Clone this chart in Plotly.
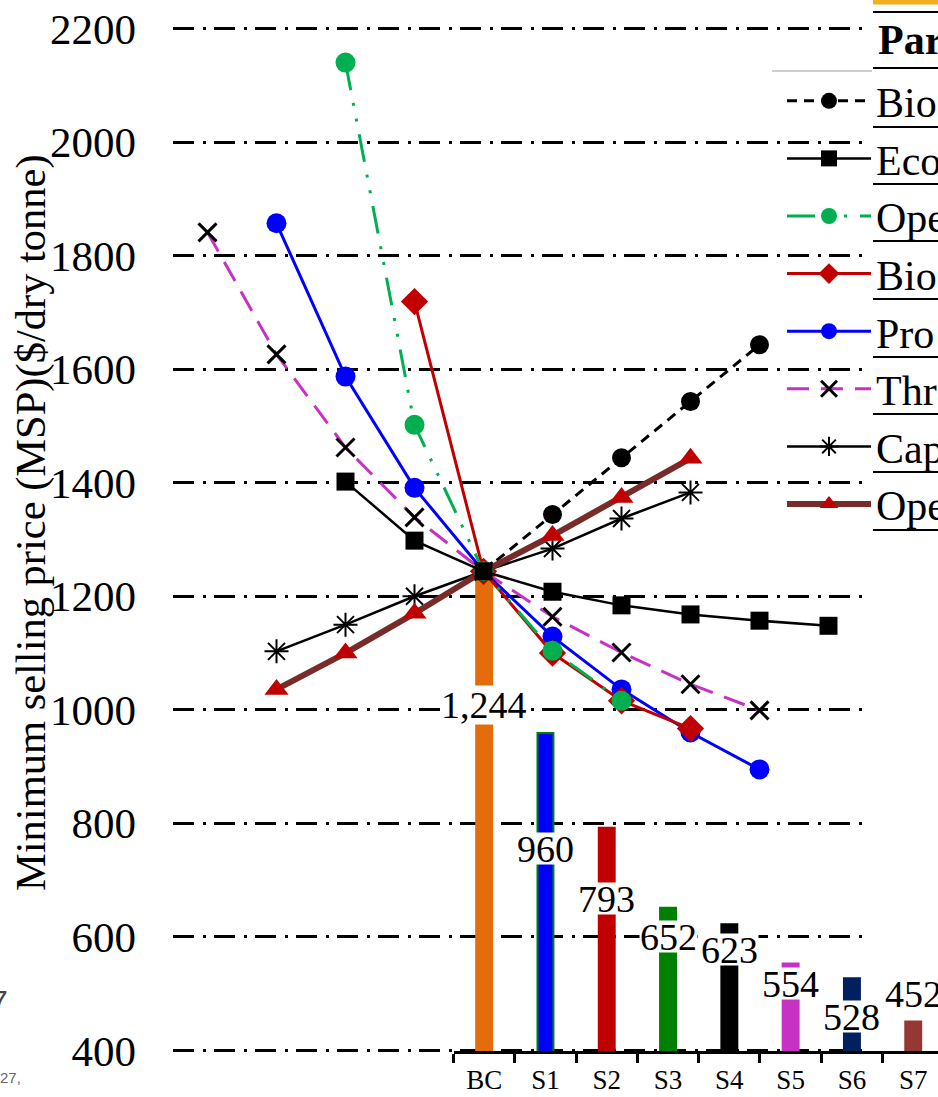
import plotly.graph_objects as go

# ---------------- data ----------------
steps = [-4, -3, -2, -1, 0, 1, 2, 3, 4, 5]

series_names = ["Bio", "Eco", "Ope", "Bio", "Pro", "Thr", "Cap", "Ope"]
bio_dashed = [None, None, None, None, 1244, 1344, 1444, 1543, 1643, None]
eco_scale = [None, None, 1402, 1298, 1244, 1208, 1184, 1168, 1157, 1148]
ope_green = [None, None, 2140, 1502, 1244, 1104, 1016, None, None, None]
bio_red = [None, None, None, 1719, 1244, 1100, 1016, 967, None, None]
pro_blue = [None, 1857, 1587, 1391, 1244, 1129, 1036, 960, 895, None]
thr_magenta = [1841, 1626, 1462, 1339, 1244, 1164, 1101, 1045, 999, None]
cap_black = [None, 1103, 1150, 1200, 1244, 1284, 1337, 1383, None, None]
ope_brown = [None, 1036, 1100, 1170, 1244, 1307, 1374, 1443, None, None]

scenarios = ["BC", "S1", "S2", "S3", "S4", "S5", "S6", "S7"]
msp = [1244, 960, 793, 652, 623, 554, 528, 452]
bar_label_y = [1009, 756, 668, 602, 578, 518, 460, 502]   # label positions

y_ticks = [400, 600, 800, 1000, 1200, 1400, 1600, 1800, 2000, 2200]

# ---------------- styles ----------------
FONT = "Liberation Serif"
W, H = 938, 1097
ML, MR, MT, MB = 173, 0, 24, 42
PW, PH = W - ML - MR, H - MT - MB


def px_x(p):
    return (p - ML) / PW


def px_y(p):
    return (H - MB - p) / PH


bar_colors = ["#E46C0A", "#0000FF", "#C00000", "#008000", "#000000",
              "#C832C4", "#002060", "#953735"]
bar_line = ["#E46C0A", "#008000", "#C00000", "#008000", "#000000",
            "#C832C4", "#002060", "#953735"]

fig = go.Figure()

# subplot 1: grid only
fig.add_trace(go.Scatter(x=[], y=[], xaxis="x", yaxis="y", showlegend=False,
                         hoverinfo="skip"))

# subplot 2: bars
fig.add_trace(go.Bar(
    x=scenarios, y=msp, xaxis="x2", yaxis="y2", width=0.26,
    marker=dict(color=bar_colors, line=dict(color=bar_line, width=2)),
    showlegend=False, hoverinfo="skip"))

# subplot 3: sensitivity lines (draw order), with legend rank
line_specs = [
    (bio_dashed, series_names[0], 1,
     dict(color="black", width=3, dash="10px,7px"),
     dict(symbol="circle", size=19, color="black")),
    (thr_magenta, series_names[5], 6,
     dict(color="#C832C4", width=3, dash="22px,12px"),
     dict(symbol="x-thin-open", size=18, color="black",
          line=dict(color="black", width=3))),
    (cap_black, series_names[6], 7,
     dict(color="black", width=2.5),
     dict(symbol="asterisk-open", size=20, color="black",
          line=dict(color="black", width=2))),
    (ope_brown, series_names[7], 8,
     dict(color="#772C2A", width=6),
     dict(symbol="triangle-up", size=21, color="#C00000")),
    (pro_blue, series_names[4], 5,
     dict(color="#0000FF", width=3),
     dict(symbol="circle", size=20, color="#0000FF")),
    (bio_red, series_names[3], 4,
     dict(color="#C00000", width=3),
     dict(symbol="diamond", size=21, color="#C00000")),
    (ope_green, series_names[2], 3,
     dict(color="#00B050", width=3, dash="28px,13px,3px,13px,3px,13px"),
     dict(symbol="circle", size=20, color="#00B050")),
    (eco_scale, series_names[1], 2,
     dict(color="black", width=2.5),
     dict(symbol="square", size=18, color="black")),
]
for vals, name, rank, ln, mk in line_specs:
    fig.add_trace(go.Scatter(
        x=steps, y=vals, xaxis="x3", yaxis="y3", mode="lines+markers",
        name=name, legendrank=rank, line=ln, marker=mk,
        connectgaps=False, hoverinfo="skip"))

# bar labels
annotations = []
for s, v, ly in zip(scenarios, msp, bar_label_y):
    txt = f"{v:,}"
    annotations.append(dict(
        x=s, y=ly, xref="x2", yref="y2", text=txt, showarrow=False,
        font=dict(family=FONT, size=38, color="black"),
        bgcolor="white", borderpad=0, height=38 if "," in txt else 31,
        valign="middle", xanchor="center", yanchor="middle"))

# y-axis title
annotations.append(dict(
    x=px_x(31), y=px_y(523), xref="paper", yref="paper",
    text="Minimum selling price (MSP)($/dry tonne)", showarrow=False,
    textangle=-90, font=dict(family=FONT, size=42.5, color="black"),
    xanchor="center", yanchor="middle"))

# legend header
annotations.append(dict(
    x=px_x(876), y=px_y(40), xref="paper", yref="paper",
    text="<b>Par</b>", showarrow=False,
    font=dict(family=FONT, size=42, color="black"),
    xanchor="left", yanchor="middle"))

# stray text fragments at left edge
annotations.append(dict(
    x=px_x(10), y=px_y(1000), xref="paper", yref="paper", text="7",
    showarrow=False, font=dict(family="Liberation Sans", size=30, color="#444"),
    xanchor="right", yanchor="middle"))
annotations.append(dict(
    x=px_x(23), y=px_y(1077), xref="paper", yref="paper", text="27,",
    showarrow=False, font=dict(family="Liberation Sans", size=15, color="#666"),
    xanchor="right", yanchor="middle"))

# legend table rules
shapes = []
for py in [12, 68, 127, 184, 241, 299, 357, 414, 472, 530]:
    shapes.append(dict(type="line", xref="paper", yref="paper",
                       x0=px_x(873), x1=1.0, y0=px_y(py), y1=px_y(py),
                       line=dict(color="black", width=2)))
shapes.append(dict(type="line", xref="paper", yref="paper",
                   x0=px_x(873), x1=1.0, y0=px_y(2), y1=px_y(2),
                   line=dict(color="#F2B01E", width=5)))
shapes.append(dict(type="line", xref="paper", yref="paper",
                   x0=px_x(772), x1=px_x(872), y0=px_y(71), y1=px_y(71),
                   line=dict(color="#BFBFBF", width=1.5)))

line_dom = [0, px_x(863)]
bar_dom = [px_x(453.5), 1.0]
ybar_bottom = (H - MB - 1051) / PH

fig.update_layout(
    width=W, height=H,
    margin=dict(l=ML, r=MR, t=MT, b=MB, autoexpand=False),
    paper_bgcolor="white", plot_bgcolor="rgba(0,0,0,0)",
    font=dict(family=FONT, color="black"),
    xaxis=dict(domain=line_dom, range=[-4.5, 5.5], visible=False,
               anchor="y"),
    yaxis=dict(domain=[0, 1], range=[392, 2208], anchor="x",
               tickvals=y_ticks, ticktext=[str(t) for t in y_ticks],
               showgrid=True, gridcolor="black", gridwidth=3,
               griddash="21px,9px,3px,8px", zeroline=False, showline=False,
               ticks="", ticklabelstandoff=36,
               tickfont=dict(family=FONT, size=43, color="black")),
    xaxis2=dict(domain=bar_dom, anchor="y2", type="category",
                range=[-0.5, 7.404], showline=True, linecolor="black",
                linewidth=3, ticks="outside", tickson="boundaries",
                ticklen=9, tickwidth=2.5, tickcolor="black", showgrid=False,
                ticklabelstandoff=3,
                tickfont=dict(family=FONT, size=27, color="black")),
    yaxis2=dict(domain=[ybar_bottom, 1], range=[400, 2208], anchor="x2",
                visible=False, showgrid=False),
    xaxis3=dict(domain=line_dom, range=[-4.5, 5.5], anchor="y3",
                visible=False),
    yaxis3=dict(domain=[0, 1], range=[392, 2208], anchor="x3",
                visible=False),
    legend=dict(x=px_x(782), y=px_y(67), xanchor="left", yanchor="top",
                font=dict(family=FONT, size=42, color="black"),
                itemwidth=84, bgcolor="rgba(0,0,0,0)", borderwidth=0,
                tracegroupgap=0),
    annotations=annotations, shapes=shapes,
)

fig.write_html("out.html",
               config={"displayModeBar": False},
               post_script="document.body.style.margin='0';"
                           "document.body.style.overflow='hidden';")
